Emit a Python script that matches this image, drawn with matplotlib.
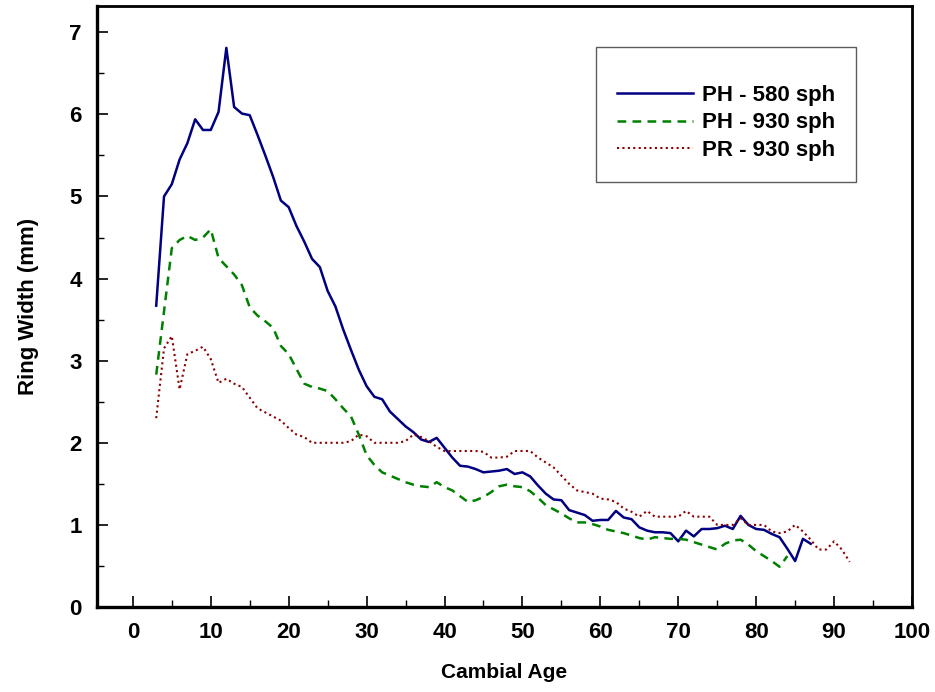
import numpy as np
import matplotlib
matplotlib.use("Agg")
import matplotlib.pyplot as plt
from matplotlib.ticker import MultipleLocator

# ring width (mm) by cambial age
age_ph580 = list(range(3, 88))
ph580 = [3.67, 5.00, 5.15, 5.45, 5.65, 5.94, 5.81, 5.81, 6.03, 6.81,
         6.09, 6.01, 5.99, 5.75, 5.50, 5.24, 4.95, 4.87, 4.64, 4.45,
         4.24, 4.14, 3.85, 3.66, 3.38, 3.13, 2.89, 2.69, 2.56, 2.53,
         2.38, 2.29, 2.20, 2.13, 2.04, 2.01, 2.06, 1.94, 1.82, 1.72,
         1.71, 1.68, 1.64, 1.65, 1.66, 1.68, 1.62, 1.64, 1.59, 1.48,
         1.38, 1.31, 1.30, 1.18, 1.15, 1.12, 1.05, 1.06, 1.06, 1.17,
         1.09, 1.07, 0.97, 0.93, 0.91, 0.91, 0.90, 0.80, 0.93, 0.86,
         0.95, 0.95, 0.96, 0.99, 0.95, 1.11, 1.00, 0.95, 0.94, 0.89,
         0.85, 0.71, 0.56, 0.83, 0.77]

age_ph930 = list(range(3, 85))
ph930 = [2.83, 3.60, 4.37, 4.47, 4.52, 4.47, 4.50, 4.60, 4.25, 4.15,
         4.05, 3.92, 3.65, 3.55, 3.48, 3.40, 3.18, 3.08, 2.90, 2.72,
         2.68, 2.66, 2.63, 2.53, 2.42, 2.32, 2.10, 1.85, 1.73, 1.64,
         1.60, 1.56, 1.52, 1.49, 1.47, 1.46, 1.52, 1.46, 1.42, 1.35,
         1.28, 1.30, 1.34, 1.40, 1.47, 1.49, 1.47, 1.46, 1.41, 1.33,
         1.24, 1.19, 1.14, 1.08, 1.03, 1.03, 1.01, 0.98, 0.94, 0.92,
         0.90, 0.87, 0.84, 0.82, 0.85, 0.84, 0.83, 0.83, 0.82, 0.79,
         0.76, 0.73, 0.70, 0.77, 0.81, 0.82, 0.76, 0.68, 0.62, 0.56,
         0.49, 0.62]

age_pr930 = list(range(3, 93))
pr930 = [2.30, 3.15, 3.30, 2.65, 3.08, 3.12, 3.17, 3.02, 2.73, 2.78,
         2.72, 2.68, 2.55, 2.42, 2.37, 2.32, 2.27, 2.18, 2.10, 2.07,
         2.00, 2.00, 2.00, 2.00, 2.00, 2.02, 2.10, 2.08, 2.00, 2.00,
         2.00, 2.00, 2.02, 2.10, 2.07, 2.02, 1.95, 1.90, 1.90, 1.90,
         1.90, 1.90, 1.89, 1.82, 1.82, 1.83, 1.90, 1.90, 1.90, 1.82,
         1.76, 1.70, 1.60, 1.50, 1.42, 1.40, 1.38, 1.32, 1.31, 1.28,
         1.20, 1.16, 1.10, 1.17, 1.10, 1.10, 1.10, 1.10, 1.17, 1.10,
         1.10, 1.10, 1.00, 1.00, 1.00, 1.08, 1.00, 1.00, 1.00, 0.92,
         0.90, 0.92, 1.00, 0.92, 0.82, 0.70, 0.70, 0.80, 0.70, 0.55]

labels = ["PH - 580 sph", "PH - 930 sph", "PR - 930 sph"]

plt.rcParams['font.family'] = ['Liberation Sans', 'DejaVu Sans']
plt.rcParams['font.weight'] = 'bold'

fig = plt.figure(figsize=(9.35, 6.92), dpi=100)
ax = fig.add_axes([97 / 935, 1 - 607 / 692, 815 / 935, 601 / 692])

ax.plot(age_ph580, ph580, color='#000080', lw=1.8, label=labels[0])
ax.plot(age_ph930, ph930, color='#008000', lw=1.8, ls=(0, (3.5, 2.5)), label=labels[1])
ax.plot(age_pr930, pr930, color='#8b0000', lw=1.5, ls=(0, (1, 1.6)), label=labels[2])

ax.set_xlim(-4.6, 100)
ax.set_ylim(0, 7.32)
ax.xaxis.set_major_locator(MultipleLocator(10))
ax.xaxis.set_minor_locator(MultipleLocator(5))
ax.yaxis.set_major_locator(MultipleLocator(1))
ax.yaxis.set_minor_locator(MultipleLocator(0.5))
ax.tick_params(which='both', direction='in', top=False, right=False, labelsize=16)
ax.tick_params(which='major', length=8, width=1.2, pad=11)
ax.tick_params(which='minor', length=5, width=1)
for s in ax.spines.values():
    s.set_linewidth(2)
ax.spines['left'].set_linewidth(2.4)
ax.spines['bottom'].set_linewidth(2.4)

ax.set_xlabel("Cambial Age", fontsize=15, fontweight='bold', labelpad=14)
ax.set_ylabel("Ring Width (mm)", fontsize=16, fontweight='bold', labelpad=22)

# blank title just pushes the entries down inside the box, like the original
leg = ax.legend(loc='upper right', bbox_to_anchor=(0.931, 0.932), fontsize=16,
                frameon=True, fancybox=False, borderpad=0.95, handlelength=3.4,
                handletextpad=0.4, labelspacing=0.3, borderaxespad=0,
                title=' ', title_fontsize=7)
leg.get_frame().set_edgecolor('#333333')
leg.get_frame().set_linewidth(1)

fig.savefig("out.png", dpi=100)
